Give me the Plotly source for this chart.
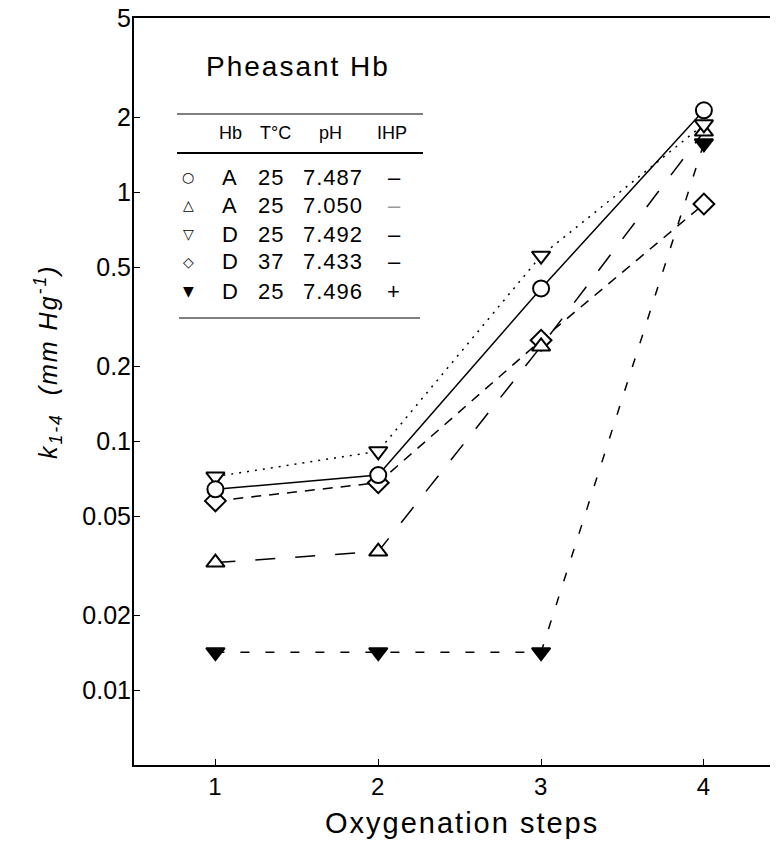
import plotly.graph_objects as go

# ---- data ----
steps = [1, 2, 3, 4]
k_A_25_7487 = [0.064, 0.073, 0.41, 2.13]
k_A_25_7050 = [0.0325, 0.036, 0.24, 1.75]
k_D_25_7492 = [0.072, 0.091, 0.555, 1.87]
k_D_37_7433 = [0.0575, 0.068, 0.254, 0.895]
k_D_25_7496_IHP = [0.0142, 0.0142, 0.0142, 1.57]

ytick_vals = [0.01, 0.02, 0.05, 0.1, 0.2, 0.5, 1, 2, 5]
ytick_text = ["0.01", "0.02", "0.05", "0.1", "0.2", "0.5", "1", "2", "5"]
xtick_vals = [1, 2, 3, 4]
xtick_text = ["1", "2", "3", "4"]

legend_header = ["Hb", "T°C", "pH", "IHP"]
legend_rows = [
    ("○", "A", "25", "7.487", "–"),
    ("△", "A", "25", "7.050", "–"),
    ("▽", "D", "25", "7.492", "–"),
    ("◇", "D", "37", "7.433", "–"),
    ("▼", "D", "25", "7.496", "+"),
]

# ---- layout geometry (page pixels; the page body adds an 8px offset) ----
OFF = 8
W, H = 778 - OFF, 844 - OFF
PLOT_L, PLOT_T, PLOT_B = 134, 18, 765          # in page pixels
ML = PLOT_L - OFF
MT = PLOT_T - OFF
MB = (H + OFF) - PLOT_B
MR = 0
PW, PH = W - ML - MR, H - MT - MB
FONT = "Liberation Sans, Arial, sans-serif"


def px(x):
    return (x - PLOT_L) / PW


def py(y):
    return (PLOT_B - y) / PH


def sp(t, ls=2):
    return '<span style="letter-spacing:%spx">%s</span>' % (ls, t)


fig = go.Figure()

series = [
    (k_D_25_7496_IHP, "triangle-down", "black", "9px,16px"),
    (k_D_37_7433, "diamond", "white", "10px,8px"),
    (k_A_25_7050, "triangle-up", "white", "20px,20px"),
    (k_D_25_7492, "triangle-down", "white", "2px,6px"),
    (k_A_25_7487, "circle", "white", "solid"),
]
for vals, sym, fill, dash in series:
    fig.add_trace(go.Scatter(
        x=steps, y=vals, mode="lines+markers",
        line=dict(color="black", width=1.5, dash=dash),
        marker=dict(symbol=sym, size=16, color=fill,
                    line=dict(color="black", width=2)),
        showlegend=False,
    ))

annotations = []
shapes = []


def ann(x, y, text, size, family=FONT, color="black", angle=0):
    annotations.append(dict(x=px(x), y=py(y), xref="paper", yref="paper",
                            xanchor="center", yanchor="middle",
                            text=text, showarrow=False, textangle=angle,
                            font=dict(family=family, size=size, color=color)))


ann(298, 66, sp("Pheasant Hb", 2), 28)
# table rules
shapes.append(dict(type="line", xref="paper", yref="paper", x0=px(177), x1=px(423),
                   y0=py(114), y1=py(114), line=dict(color="black", width=1.2)))
shapes.append(dict(type="line", xref="paper", yref="paper", x0=px(177), x1=px(423),
                   y0=py(153), y1=py(153), line=dict(color="black", width=2.2)))
shapes.append(dict(type="line", xref="paper", yref="paper", x0=px(179), x1=px(420),
                   y0=py(318), y1=py(318), line=dict(color="black", width=1.2)))

head_x = [230, 275, 330, 392]
for cx, htxt in zip(head_x, legend_header):
    ann(cx, 133, htxt, 18)

cols_x = [188, 230, 271, 333, 394]
rows_y = [177, 205, 234, 262, 291]
for i, (ry, row) in enumerate(zip(rows_y, legend_rows)):
    for j, (cx, txt) in enumerate(zip(cols_x, row)):
        if j == 0:
            ann(cx, ry, txt, 14, family="DejaVu Sans")
        else:
            col = "#999999" if (i == 1 and j == 4) else "black"
            ann(cx, ry, sp(txt, 1), 22, color=col)

# axis titles
ann(462, 823, sp("Oxygenation steps", 2), 29)
ann(48, 362, sp("<i>k<sub>1-4</sub>  (mm Hg<sup>-1</sup>)</i>", 2), 25, angle=-90)

fig.update_layout(
    width=W, height=H,
    margin=dict(l=ML, r=MR, t=MT, b=MB, autoexpand=False),
    paper_bgcolor="white", plot_bgcolor="white",
    font=dict(family=FONT, color="black"),
    annotations=annotations, shapes=shapes,
    xaxis=dict(
        range=[0.5, 4.455], tickvals=xtick_vals,
        ticktext=[sp(t, 1) for t in xtick_text], ticks="inside", ticklen=6,
        tickwidth=1.2, tickcolor="black", showline=True, linewidth=2,
        linecolor="black", mirror=True, showgrid=False, zeroline=False,
        tickfont=dict(family=FONT, size=24), ticklabelstandoff=-1,
        automargin=False,
    ),
    yaxis=dict(
        type="log", range=[-2.30103, 0.69905], tickvals=ytick_vals,
        ticktext=ytick_text, ticks="inside", ticklen=6,
        tickwidth=1.2, tickcolor="black", showline=True, linewidth=2,
        linecolor="black", mirror=False, showgrid=False, zeroline=False,
        tickfont=dict(family=FONT, size=25), ticklabelstandoff=-4,
        ticklabeloverflow="allow", automargin=False,
    ),
)

fig.write_html("out.html")
